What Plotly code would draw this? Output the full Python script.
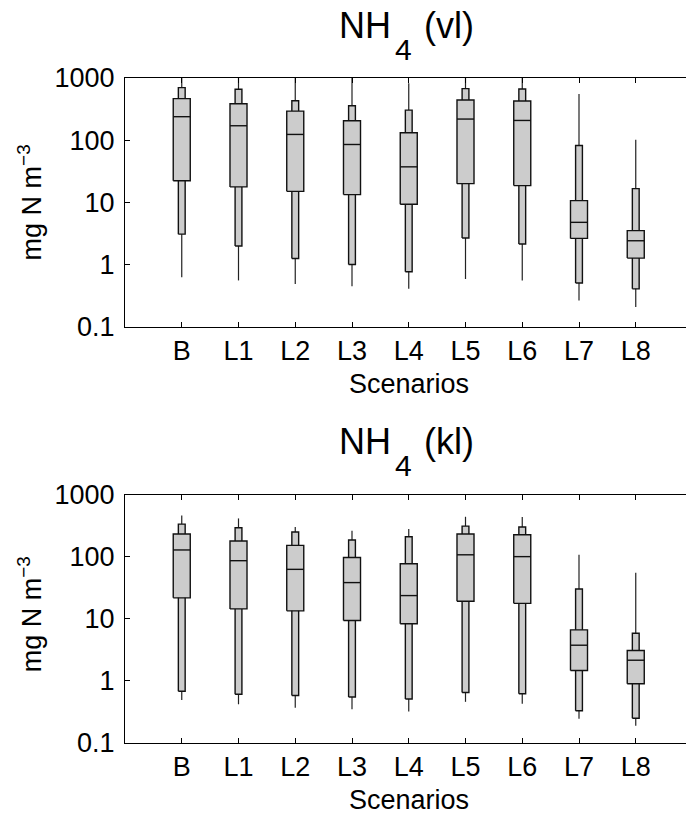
import plotly.graph_objects as go

categories = ["B", "L1", "L2", "L3", "L4", "L5", "L6", "L7", "L8"]
tick_vals = [0.1, 1, 10, 100, 1000]
tick_text = ["0.1", "1", "10", "100", "1000"]

# NH4 (vl) percentiles
vl_min = [0.63, 0.56, 0.49, 0.45, 0.41, 0.59, 0.56, 0.266, 0.21]
vl_p05 = [3.1, 2.0, 1.26, 1.01, 0.77, 2.69, 2.15, 0.51, 0.41]
vl_q25 = [22.3, 17.8, 15.1, 13.4, 9.35, 20.1, 18.7, 2.65, 1.28]
vl_med = [239, 171, 124, 85.5, 37.4, 219, 208, 4.8, 2.43]
vl_q75 = [466, 386, 294, 206, 132, 442, 427, 10.7, 3.53]
vl_p95 = [700, 658, 432, 359, 305, 675, 665, 82.4, 16.7]
vl_max = [1000, 1000, 1000, 1000, 822, 1000, 1000, 553, 102]

# NH4 (kl) percentiles
kl_min = [0.49, 0.42, 0.37, 0.35, 0.32, 0.46, 0.43, 0.246, 0.19]
kl_p05 = [0.68, 0.61, 0.58, 0.55, 0.51, 0.65, 0.62, 0.33, 0.25]
kl_q25 = [21.7, 14.4, 13.4, 9.35, 8.3, 19.1, 17.7, 1.47, 0.90]
kl_med = [128, 86, 62.4, 38.2, 23.6, 107, 100, 3.75, 2.15]
kl_q75 = [231, 178, 152, 97, 77, 231, 225, 6.63, 3.08]
kl_p95 = [334, 292, 249, 185, 209, 310, 299, 30.2, 5.85]
kl_max = [460, 412, 299, 261, 278, 438, 434, 107, 55.2]

FONT = "Liberation Sans, Arial, Helvetica, sans-serif"
FILL = "#cccccc"
W, H = 686, 816
ML, MR, MT, MB = 125, 0, 78, 73
PW, PH = W - ML - MR, H - MT - MB


def px(x):
    return (x - ML) / PW


def py(y):
    return (H - MB - y) / PH


def rects(xc, lo, hi, hw):
    xs, ys = [], []
    for x, a, b in zip(xc, lo, hi):
        xs += [x - hw, x + hw, x + hw, x - hw, x - hw, None]
        ys += [a, a, b, b, a, None]
    return xs, ys


fig = go.Figure()
panels = [
    ("x", "y", vl_min, vl_p05, vl_q25, vl_med, vl_q75, vl_p95, vl_max),
    ("x2", "y2", kl_min, kl_p05, kl_q25, kl_med, kl_q75, kl_p95, kl_max),
]
pos = list(range(1, len(categories) + 1))
for xa, ya, mn, p05, q25, med, q75, p95, mx in panels:
    wx, wy = [], []
    for x, a, b in zip(pos, mn, mx):
        wx += [x, x, None]
        wy += [a, b, None]
    fig.add_trace(go.Scatter(x=wx, y=wy, mode="lines", xaxis=xa, yaxis=ya,
                             line=dict(color="#222222", width=1.2),
                             hoverinfo="skip", showlegend=False))
    nx, ny = rects(pos, p05, p95, 0.06)
    fig.add_trace(go.Scatter(x=nx, y=ny, mode="lines", fill="toself", fillcolor=FILL,
                             xaxis=xa, yaxis=ya, line=dict(color="#111111", width=1.4),
                             hoverinfo="skip", showlegend=False))
    bx, by = rects(pos, q25, q75, 0.15)
    fig.add_trace(go.Scatter(x=bx, y=by, mode="lines", fill="toself", fillcolor=FILL,
                             xaxis=xa, yaxis=ya, line=dict(color="#111111", width=1.4),
                             hoverinfo="skip", showlegend=False))
    mxs, mys = [], []
    for x, m in zip(pos, med):
        mxs += [x - 0.15, x + 0.15, None]
        mys += [m, m, None]
    fig.add_trace(go.Scatter(x=mxs, y=mys, mode="lines", xaxis=xa, yaxis=ya,
                             line=dict(color="#111111", width=1.4),
                             hoverinfo="skip", showlegend=False))

top_dom = [py(327), 1.0]
bot_dom = [0.0, py(494.5)]

xcommon = dict(range=[0, (W - ML) / 56.75], tickvals=pos, ticktext=categories,
               ticks="inside", ticklen=5, tickcolor="black", showline=True,
               linecolor="black", linewidth=1, mirror="ticks", showgrid=False,
               zeroline=False, tickfont=dict(family=FONT, size=27, color="black"),
               ticklabelstandoff=0)
ycommon = dict(type="log", range=[-1, 3], tickvals=tick_vals, ticktext=tick_text,
               ticks="inside", ticklen=5, tickcolor="black", showline=True,
               linecolor="black", linewidth=1, showgrid=False, zeroline=False,
               tickfont=dict(family=FONT, size=27, color="black"),
               ticklabelstandoff=4)

fig.update_layout(
    width=W, height=H, paper_bgcolor="white", plot_bgcolor="white",
    margin=dict(l=ML, r=MR, t=MT, b=MB),
    font=dict(family=FONT, color="black"),
    xaxis=dict(domain=[0, 1], anchor="y", **xcommon),
    yaxis=dict(domain=top_dom, anchor="x", **ycommon),
    xaxis2=dict(domain=[0, 1], anchor="y2", **xcommon),
    yaxis2=dict(domain=bot_dom, anchor="x2", **ycommon),
    showlegend=False,
)

anns = []
for dy, tag in [(0, "(vl)"), (416, "(kl)")]:
    anns.append(dict(text="NH", x=px(391), y=py(25.5 + dy), xanchor="right", yanchor="middle",
                     font=dict(size=36)))
    anns.append(dict(text="4", x=px(395), y=py(49.7 + dy), xanchor="left", yanchor="middle",
                     font=dict(size=30)))
    anns.append(dict(text=tag, x=px(423.5), y=py(25.5 + dy), xanchor="left", yanchor="middle",
                     font=dict(size=36)))
    anns.append(dict(text="Scenarios", x=px(409), y=py(384 + dy), xanchor="center",
                     yanchor="middle", font=dict(size=27)))
    anns.append(dict(text="mg N m<sup>\u22123</sup>", x=px(30), y=py(202.4 + dy * 0.99),
                     xanchor="center", yanchor="middle", textangle=-90, font=dict(size=27)))
for a in anns:
    a.update(xref="paper", yref="paper", showarrow=False, borderpad=0, borderwidth=0)
    a["font"].update(family=FONT, color="black")
fig.update_layout(annotations=anns)

fig.write_html("out.html")
